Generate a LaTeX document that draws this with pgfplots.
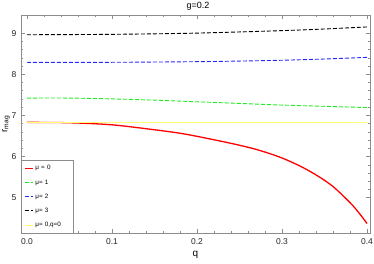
\documentclass[border=0pt]{standalone}
\usepackage{fontspec}
\setmainfont{Liberation Sans}
\usepackage{pgfplots}
\pgfplotsset{compat=1.18}
\definecolor{mgreen}{rgb}{0.1,0.95,0.1}
\definecolor{mblue}{rgb}{0.15,0.15,1}
\definecolor{myellow}{rgb}{1,1,0.45}
\definecolor{framegray}{gray}{0.55}
\begin{document}
\begin{tikzpicture}
\begin{axis}[
  at={(0pt,0pt)}, anchor=south west,
  scale only axis, width=349pt, height=218pt,
  xmin=-0.007, xmax=0.4035, ymin=4.14, ymax=9.44,
  xtick={0,0.1,0.2,0.3,0.4},
  xticklabels={0.0,0.1,0.2,0.3,0.4},
  ytick={5,6,7,8,9},
  minor x tick num=4, minor y tick num=4,
  tick align=inside, major tick length=4pt, minor tick length=2pt,
  axis line style={framegray},
  every tick/.style={framegray},
  tick label style={font=\fontsize{8.5}{10}\selectfont, text=black!85},
  /pgf/number format/assume math mode=true,
  xticklabel style={anchor=base, yshift=-12pt},
  yticklabel style={xshift=-1.2pt},
  title={g=0.2},
  title style={font=\fontsize{9}{10}\selectfont, at={(0.5,1)}, anchor=base, xshift=2.5pt},
  xlabel={q},
  xlabel style={font=\fontsize{10}{11}\selectfont, at={(0.5,0)}, anchor=base, yshift=-24pt},
  ylabel={r\textsubscript{mag}},
  ylabel style={font=\fontsize{9.5}{11}\selectfont, at={(0,0.5)}, anchor=center, yshift=15pt},
  legend cell align=left,
  legend style={at={(0,0)}, anchor=south west, draw=framegray, fill=white,
    font=\fontsize{6.3}{7}\selectfont, row sep=4.2pt, inner ysep=3pt, inner xsep=3pt},
  legend image code/.code={\draw[#1] (0pt,0pt) -- (8pt,0pt);},
  /tikz/every even column/.append style={text width=33pt},
]
\addplot[red, line width=1.3pt, smooth] coordinates {
(0,6.83) (0.05,6.82) (0.1,6.77) (0.15,6.65) (0.18,6.565) (0.2,6.49)
(0.24,6.32) (0.27,6.17) (0.298,5.98) (0.32,5.78) (0.337,5.59) (0.35,5.42) (0.36,5.27)
(0.368,5.12) (0.376,4.96) (0.384,4.79) (0.392,4.59) (0.4,4.37)};
\addlegendentry{μ = 0}
\addplot[mgreen, line width=0.9pt, dash pattern=on 4pt off 2pt, smooth] coordinates {
(0,7.42) (0.05,7.42) (0.1,7.40) (0.15,7.37) (0.2,7.33) (0.25,7.29) (0.3,7.25) (0.35,7.22) (0.4,7.19)};
\addlegendentry{μ= 1}
\addplot[mblue, line width=0.9pt, dash pattern=on 4pt off 2pt, smooth] coordinates {
(0,8.29) (0.1,8.29) (0.2,8.305) (0.25,8.32) (0.3,8.34) (0.35,8.37) (0.4,8.41)};
\addlegendentry{μ= 2}
\addplot[black, line width=0.9pt, dash pattern=on 4pt off 2pt, smooth] coordinates {
(0,8.96) (0.1,8.97) (0.2,9.0) (0.3,9.06) (0.35,9.10) (0.4,9.15)};
\addlegendentry{μ= 3}
\addplot[myellow, line width=0.6pt] coordinates {(0,6.83) (0.4,6.83)};
\addlegendentry{μ= 0,q=0}
\end{axis}
\pgfresetboundingbox
\path (-21pt,-31pt) rectangle (353pt,233pt);
\end{tikzpicture}
\end{document}
